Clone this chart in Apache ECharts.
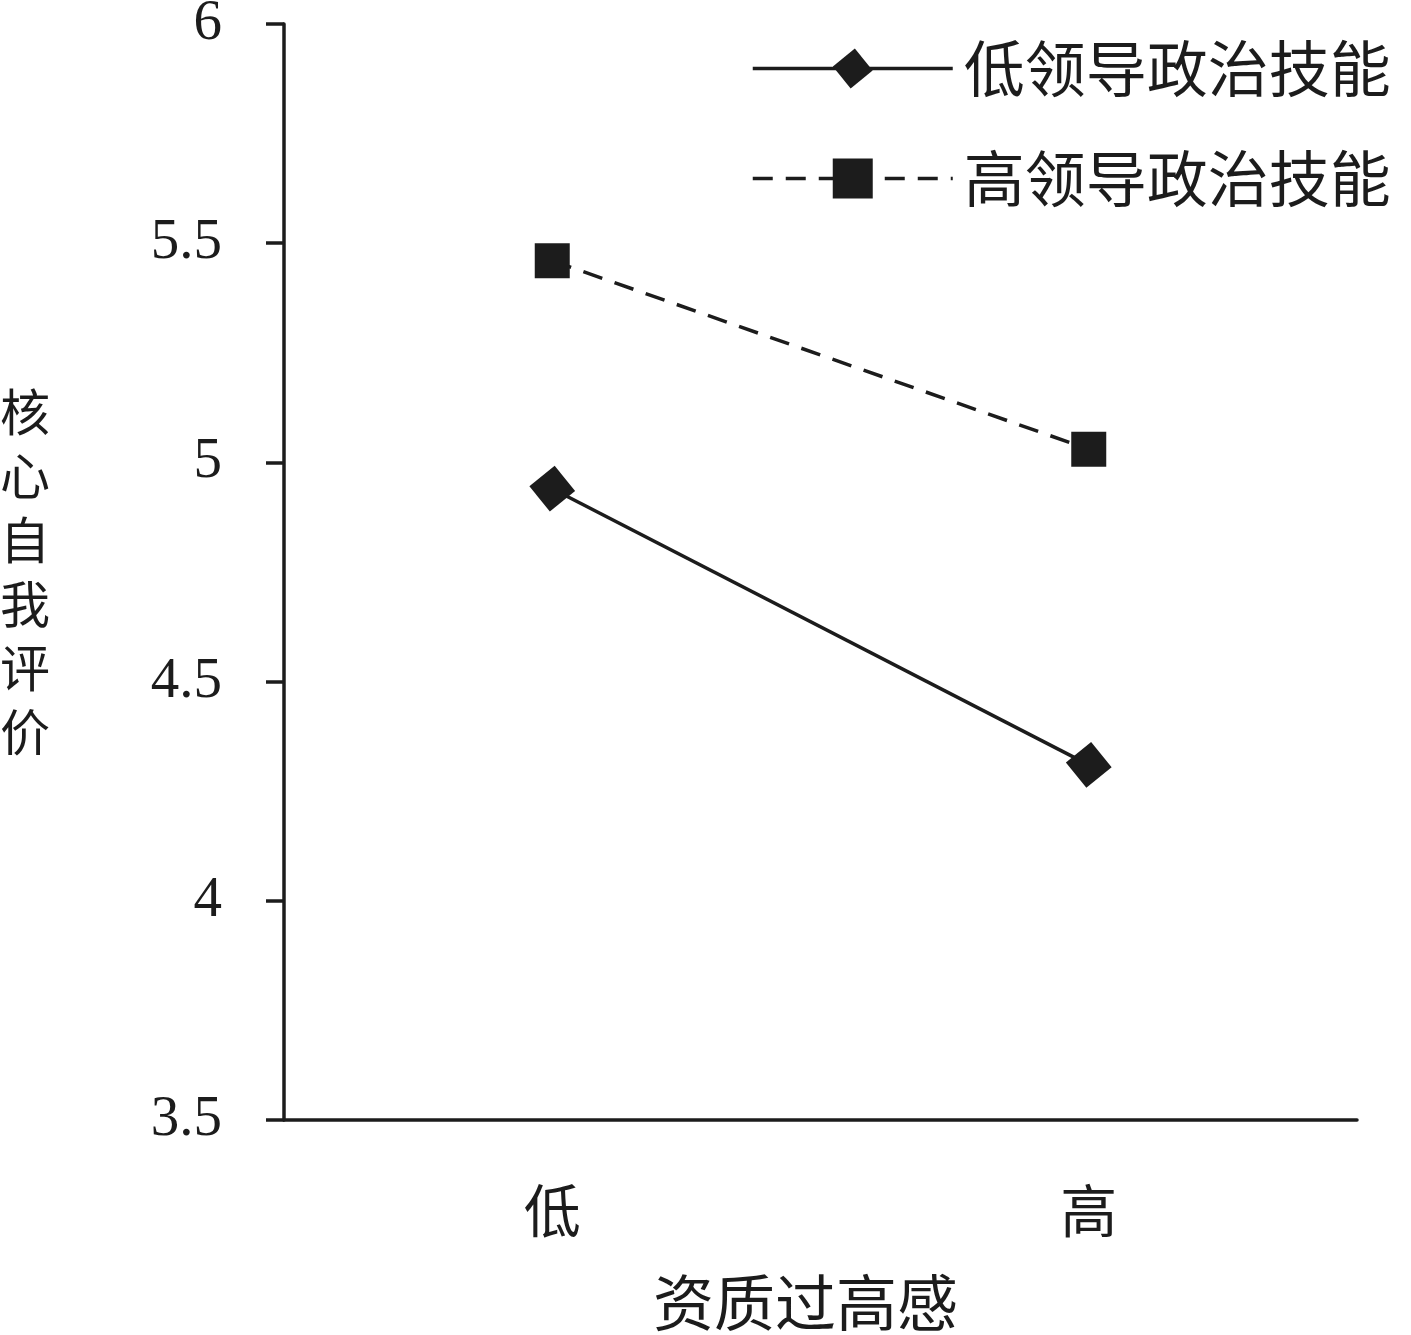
<!DOCTYPE html>
<html>
<head>
<meta charset="utf-8">
<script src="https://cdn.jsdelivr.net/npm/echarts@6/dist/echarts.min.js"></script>
<style>html,body{margin:0;padding:0;background:#fff}#c{width:1411px;height:1335px}</style>
</head>
<body>
<div id="c"></div>
<script>
const categories = ['低', '高'];
const seriesNames = ['低领导政治技能', '高领导政治技能'];
const lowSkill = [4.94, 4.31];
const highSkill = [5.46, 5.03];
const yTicks = { min: 3.5, max: 6, interval: 0.5 };
const xTitle = '资质过高感';
const yTitle = '核心自我评价';

const ink = '#1c1c1c';
const serif = '"Liberation Serif", "Noto Sans CJK SC", serif';
const cjk = '"Noto Sans CJK SC", "Liberation Serif", serif';

const chart = echarts.init(document.getElementById('c'));
chart.setOption({
  backgroundColor: '#fff',
  animation: false,
  grid: { left: 284, right: 54, top: 24, bottom: 215, containLabel: false, outerBoundsMode: 'none' },
  legend: {
    orient: 'vertical',
    left: 746,
    top: 33,
    itemWidth: 200,
    itemHeight: 50,
    itemGap: 49,
    lineStyle: { width: 3.5 },
    textStyle: { fontFamily: cjk, fontSize: 61, color: ink, lineHeight: 56, padding: [0, 0, 0, 6] },
    data: seriesNames
  },
  xAxis: {
    type: 'category',
    data: categories,
    boundaryGap: true,
    axisLine: { lineStyle: { color: ink, width: 3.5 } },
    axisTick: { length: 17, lineStyle: { color: ink, width: 3.5 } },
    axisLabel: { fontFamily: cjk, fontSize: 57, color: ink, margin: 62 },
    splitLine: { show: false },
    name: xTitle,
    nameLocation: 'middle',
    nameGap: 152,
    nameTextStyle: { fontFamily: cjk, fontSize: 61, color: ink, padding: [0, 30, 0, 0] }
  },
  yAxis: {
    type: 'value',
    min: yTicks.min,
    max: yTicks.max,
    interval: yTicks.interval,
    axisLine: { show: true, lineStyle: { color: ink, width: 3.5 } },
    axisTick: { show: true, length: 18, lineStyle: { color: ink, width: 3.5 } },
    axisLabel: { fontFamily: serif, fontSize: 57, color: ink, margin: 62 },
    splitLine: { show: false },
    name: yTitle.split('').join('\n'),
    nameLocation: 'middle',
    nameRotate: 0,
    nameGap: 234,
    nameTextStyle: { fontFamily: cjk, fontSize: 50, color: ink, lineHeight: 64 }
  },
  series: [
    {
      name: seriesNames[0],
      type: 'line',
      data: lowSkill,
      symbol: 'diamond',
      symbolSize: 46,
      symbolRotate: -6,
      lineStyle: { color: ink, width: 3.5, type: 'solid' },
      itemStyle: { color: ink },
      z: 3
    },
    {
      name: seriesNames[1],
      type: 'line',
      data: highSkill,
      symbol: 'rect',
      symbolSize: 35,
      lineStyle: { color: ink, width: 3.5, type: [20, 13] },
      itemStyle: { color: ink },
      z: 3
    }
  ]
});
</script>
</body>
</html>
